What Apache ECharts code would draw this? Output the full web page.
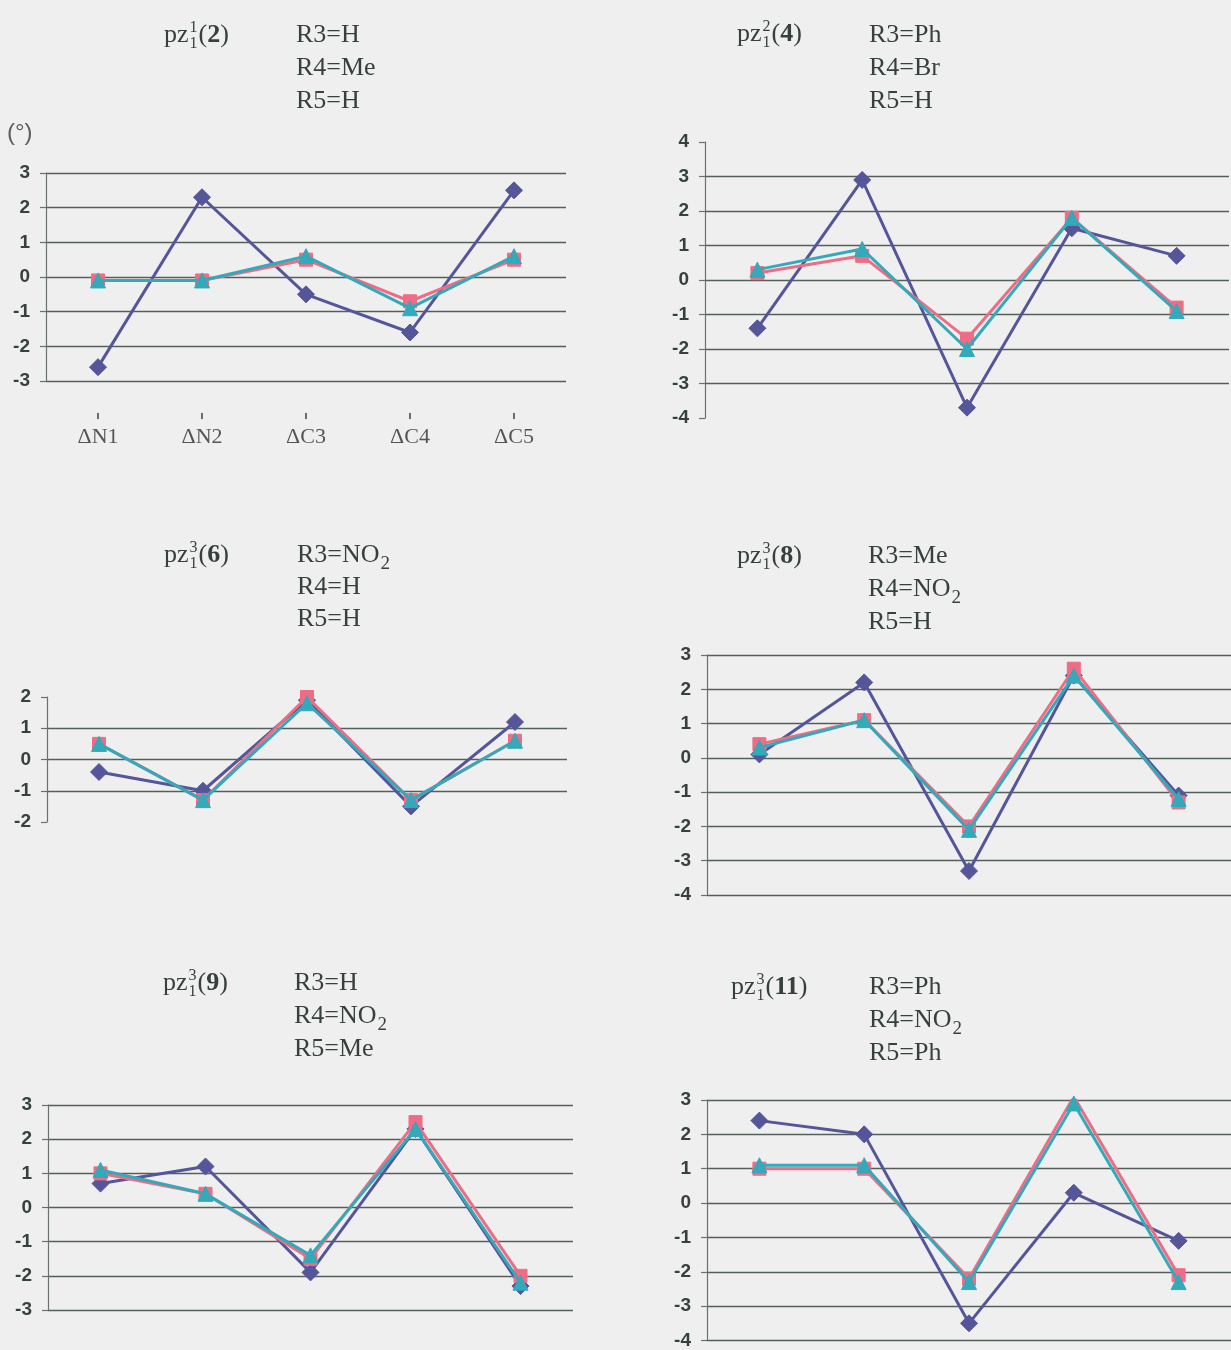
<!DOCTYPE html>
<html>
<head>
<meta charset="utf-8">
<title>Pyrazole ring torsion deviations</title>
<script src="https://cdn.jsdelivr.net/npm/echarts@6/dist/echarts.min.js"></script>
<style>
  html, body { margin: 0; padding: 0; background: #efefef; }
  #chart { width: 1231px; height: 1350px; }
</style>
</head>
<body>
<div id="chart"></div>
<script>
// Ring positions along the category axis
const categories = ['ΔN1', 'ΔN2', 'ΔC3', 'ΔC4', 'ΔC5'];

// Deviations (°) per compound: diamond, square and triangle series
const pz2_diamond  = [-2.6, 2.3, -0.5, -1.6, 2.5];
const pz2_square   = [-0.1, -0.1, 0.5, -0.7, 0.5];
const pz2_triangle = [-0.1, -0.1, 0.6, -0.9, 0.6];

const pz4_diamond  = [-1.4, 2.9, -3.7, 1.5, 0.7];
const pz4_square   = [0.2, 0.7, -1.7, 1.8, -0.8];
const pz4_triangle = [0.3, 0.9, -2.0, 1.8, -0.9];

const pz6_diamond  = [-0.4, -1.0, 1.9, -1.5, 1.2];
const pz6_square   = [0.5, -1.3, 2.0, -1.3, 0.6];
const pz6_triangle = [0.5, -1.3, 1.8, -1.3, 0.6];

const pz8_diamond  = [0.1, 2.2, -3.3, 2.4, -1.1];
const pz8_square   = [0.4, 1.1, -2.0, 2.6, -1.3];
const pz8_triangle = [0.3, 1.1, -2.1, 2.4, -1.2];

const pz9_diamond  = [0.7, 1.2, -1.9, 2.3, -2.3];
const pz9_square   = [1.0, 0.4, -1.5, 2.5, -2.0];
const pz9_triangle = [1.1, 0.4, -1.4, 2.3, -2.2];

const pz11_diamond  = [2.4, 2.0, -3.5, 0.3, -1.1];
const pz11_square   = [1.0, 1.0, -2.2, 3.1, -2.1];
const pz11_triangle = [1.1, 1.1, -2.3, 2.9, -2.3];

// Substituent captions ("_" marks a subscript)
const subst_pz2  = ['R3=H', 'R4=Me', 'R5=H'];
const subst_pz4  = ['R3=Ph', 'R4=Br', 'R5=H'];
const subst_pz6  = ['R3=NO_2', 'R4=H', 'R5=H'];
const subst_pz8  = ['R3=Me', 'R4=NO_2', 'R5=H'];
const subst_pz9  = ['R3=H', 'R4=NO_2', 'R5=Me'];
const subst_pz11 = ['R3=Ph', 'R4=NO_2', 'R5=Ph'];

// Value-axis ranges
const yRange_pz2  = [-3, 3];
const yRange_pz4  = [-4, 4];
const yRange_pz6  = [-2, 2];
const yRange_pz8  = [-4, 3];
const yRange_pz9  = [-3, 3];
const yRange_pz11 = [-4, 3];

const panels = [
  { num: '2',  shell: '1', subst: subst_pz2,  data: [pz2_diamond, pz2_square, pz2_triangle],    yr: yRange_pz2,
    grid: { left: 46, top: 173, width: 520, height: 208 }, edgeLines: true,  xLabels: true,
    title: [164, 35], col: [296, 35, 33] },
  { num: '4',  shell: '2', subst: subst_pz4,  data: [pz4_diamond, pz4_square, pz4_triangle],    yr: yRange_pz4,
    grid: { left: 705, top: 142, width: 524, height: 276 }, edgeLines: false, xLabels: false,
    title: [737, 34], col: [869, 35, 33] },
  { num: '6',  shell: '3', subst: subst_pz6,  data: [pz6_diamond, pz6_square, pz6_triangle],    yr: yRange_pz6,
    grid: { left: 47, top: 697, width: 520, height: 125 }, edgeLines: false, xLabels: false,
    title: [164, 555], col: [297, 555, 32] },
  { num: '8',  shell: '3', subst: subst_pz8,  data: [pz8_diamond, pz8_square, pz8_triangle],    yr: yRange_pz8,
    grid: { left: 707, top: 655, width: 530, height: 240 }, edgeLines: true,  xLabels: false,
    title: [737, 556], col: [868, 556, 33] },
  { num: '9',  shell: '3', subst: subst_pz9,  data: [pz9_diamond, pz9_square, pz9_triangle],    yr: yRange_pz9,
    grid: { left: 48, top: 1105, width: 525, height: 205 }, edgeLines: true,  xLabels: false,
    title: [163, 983], col: [294, 983, 33] },
  { num: '11', shell: '3', subst: subst_pz11, data: [pz11_diamond, pz11_square, pz11_triangle], yr: yRange_pz11,
    grid: { left: 707, top: 1100, width: 530, height: 243 }, edgeLines: true,  xLabels: false,
    title: [731, 987], col: [869, 987, 33] }
];

const GRID_COLOR = '#53605a';
const TEXT_COLOR = '#36403c';
const SERIES_STYLE = [
  { color: '#55559a', symbol: 'diamond',  size: 17 },
  { color: '#f06c85', symbol: 'rect',     size: 13 },
  { color: '#33a9b9', symbol: 'triangle', size: 15 }
];

// Text measurement for placing caption pieces side by side
const mctx = document.createElement('canvas').getContext('2d');
function textWidth(s, font) { mctx.font = font; return mctx.measureText(s).width; }

function txt(s, x, y, font, color) {
  return {
    type: 'text', x: x, y: y, silent: true,
    style: {
      text: s, font: font, fill: color || TEXT_COLOR,
      textAlign: 'left', textVerticalAlign: 'middle', align: 'left', verticalAlign: 'middle'
    }
  };
}

const MAIN_FONT = '26px "Liberation Serif", "Times New Roman", serif';
const BOLD_FONT = 'bold 26px "Liberation Serif", "Times New Roman", serif';
const SCRIPT_FONT = '16px "Liberation Serif", "Times New Roman", serif';
const SUB_FONT = '19px "Liberation Serif", "Times New Roman", serif';

// "pz" with stacked super/subscript, then "(n)" with bold n
function formula(x, cy, shell, num) {
  const els = [];
  let cx = x;
  els.push(txt('pz', cx, cy, MAIN_FONT));
  cx += textWidth('pz', MAIN_FONT) + 1;
  els.push(txt(shell, cx, cy - 7, SCRIPT_FONT));
  els.push(txt('1', cx, cy + 9, SCRIPT_FONT));
  cx += Math.max(textWidth(shell, SCRIPT_FONT), textWidth('1', SCRIPT_FONT)) + 1;
  els.push(txt('(', cx, cy, MAIN_FONT));
  cx += textWidth('(', MAIN_FONT);
  els.push(txt(num, cx, cy, BOLD_FONT));
  cx += textWidth(num, BOLD_FONT);
  els.push(txt(')', cx, cy, MAIN_FONT));
  return els;
}

function substLine(x, cy, label) {
  const parts = label.split('_');
  const els = [txt(parts[0], x, cy, MAIN_FONT)];
  if (parts.length > 1) {
    els.push(txt(parts[1], x + textWidth(parts[0], MAIN_FONT) + 1, cy + 9, SUB_FONT));
  }
  return els;
}

const grids = [], xAxes = [], yAxes = [], series = [];
let graphics = [];

panels.forEach((p, i) => {
  grids.push(Object.assign({ containLabel: false }, p.grid));

  xAxes.push({
    type: 'category', gridIndex: i, data: categories, boundaryGap: true,
    show: p.xLabels,
    position: 'bottom',
    offset: 32,
    axisLine: { show: false, onZero: false },
    axisTick: { show: p.xLabels, alignWithLabel: true, length: 6, lineStyle: { color: '#4a4a4a', width: 1.6 } },
    axisLabel: {
      show: p.xLabels, margin: 13, color: '#555', fontSize: 22,
      fontFamily: '"Liberation Serif", "Times New Roman", serif'
    },
    splitLine: { show: false }
  });

  yAxes.push({
    type: 'value', gridIndex: i, min: p.yr[0], max: p.yr[1], interval: 1,
    axisLine: { show: true, lineStyle: { color: '#6a716d', width: 1.2 } },
    axisTick: { show: true, length: 6, lineStyle: { color: '#6a716d', width: 1.2 } },
    axisLabel: {
      margin: 16, color: TEXT_COLOR, fontSize: 19, fontWeight: 'bold',
      fontFamily: '"Liberation Sans", Arial, sans-serif'
    },
    splitLine: {
      show: true, showMinLine: p.edgeLines, showMaxLine: p.edgeLines,
      lineStyle: { color: GRID_COLOR, width: 1.4 }
    }
  });

  p.data.forEach((vals, k) => {
    const st = SERIES_STYLE[k];
    series.push({
      type: 'line', xAxisIndex: i, yAxisIndex: i, data: vals,
      symbol: st.symbol, symbolSize: st.size, showSymbol: true,
      lineStyle: { color: st.color, width: 3 },
      itemStyle: { color: st.color, borderColor: st.color, borderWidth: 1 },
      z: 2 + k, animation: false, silent: true
    });
  });

  graphics = graphics.concat(formula(p.title[0], p.title[1], p.shell, p.num));
  p.subst.forEach((s, j) => {
    graphics = graphics.concat(substLine(p.col[0], p.col[1] + j * p.col[2], s));
  });
});

// unit of the value axis
graphics.push(txt('(°)', 7, 133, '24px "Liberation Sans", Arial, sans-serif', '#5a5f5c'));

const chart = echarts.init(document.getElementById('chart'), null, { renderer: 'canvas' });
chart.setOption({
  backgroundColor: '#efefef',
  animation: false,
  grid: grids,
  xAxis: xAxes,
  yAxis: yAxes,
  series: series,
  graphic: { elements: graphics }
});
</script>
</body>
</html>
